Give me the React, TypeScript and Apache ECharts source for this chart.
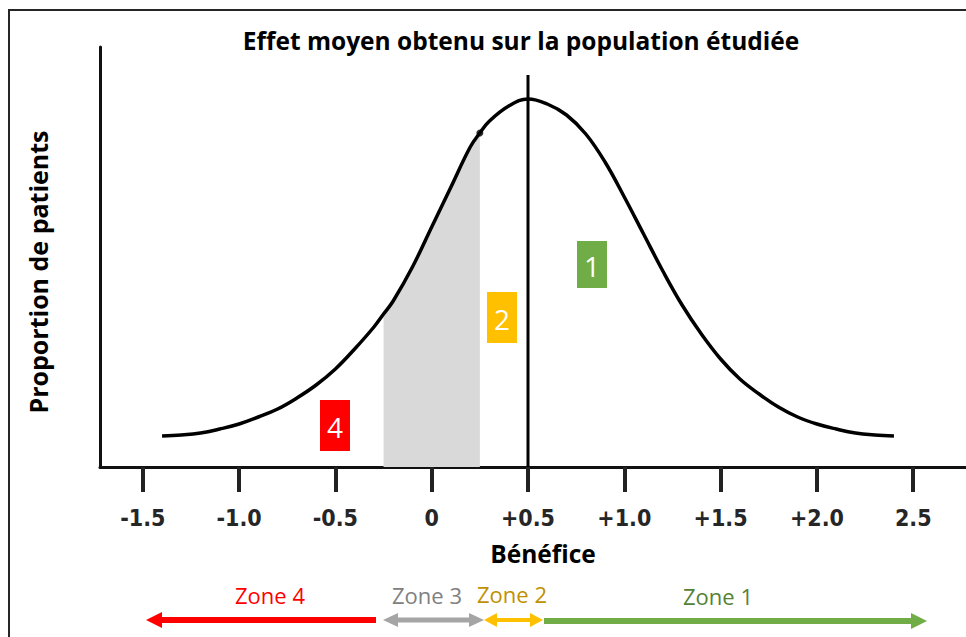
import React, { useEffect, useRef } from "react";
import * as echarts from "echarts";

// Curve (x = bénéfice, y = relative proportion of patients)
const curveX = [-1.4, -1.3, -1.2, -1.1, -1.0, -0.9, -0.8, -0.7, -0.6, -0.5, -0.4, -0.3, -0.25, -0.2, -0.1, 0.0, 0.1, 0.2, 0.25, 0.3, 0.4, 0.5, 0.6, 0.7, 0.8, 0.9, 1.0, 1.1, 1.2, 1.3, 1.4, 1.5, 1.6, 1.7, 1.8, 1.9, 2.0, 2.1, 2.2, 2.3, 2.4];
const curveY = [31, 32, 34, 38, 43, 50, 58, 69, 82, 98, 118, 140, 153, 166, 200, 240, 280, 320, 334, 346, 361, 368, 363, 352, 333, 305, 270, 233, 196, 162, 133, 108, 88, 73, 60, 50, 43, 38, 34, 32, 31];

// Shaded zone (zone 3) limits
const shadeFrom = -0.25;
const shadeTo = 0.25;

// Mean effect vertical line
const meanX = 0.5;
const meanLineTop = 392;

// X tick values and their labels
const tickValues = [-1.5, -1.0, -0.5, 0, 0.5, 1.0, 1.5, 2.0, 2.5];
const tickLabels = ["-1.5", "-1.0", "-0.5", "0", "+0.5", "+1.0", "+1.5", "+2.0", "2.5"];

// Zone labels / box numbers
const zoneNames = ["Zone 4", "Zone 3", "Zone 2", "Zone 1"];
const boxNumbers = ["4", "3", "2", "1"];

const titleText = "Effet moyen obtenu sur la population étudiée";
const xName = "Bénéfice";
const yName = "Proportion de patients";

const RED = "#ff0000";
const GRAY = "#a5a5a5";
const ORANGE = "#ffc000";
const GREEN = "#70ad47";

const BOLD_FONT = "'Open Sans', sans-serif";

function arrowLine(x1: number, x2: number, y: number, w: number, color: string) {
  return { type: "line", shape: { x1, y1: y, x2, y2: y }, style: { stroke: color, lineWidth: w }, silent: true };
}
function headLeft(tip: number, y: number, len: number, half: number, color: string) {
  return { type: "polygon", shape: { points: [[tip, y], [tip + len, y - half], [tip + len, y + half]] }, style: { fill: color }, silent: true };
}
function headRight(tip: number, y: number, len: number, half: number, color: string) {
  return { type: "polygon", shape: { points: [[tip, y], [tip - len, y - half], [tip - len, y + half]] }, style: { fill: color }, silent: true };
}
function box(x: number, y: number, w: number, h: number, fill: string, label: string, stroke?: string) {
  return {
    type: "group",
    children: [
      { type: "rect", shape: { x, y, width: w, height: h }, style: { fill, stroke: stroke || null, lineWidth: stroke ? 2 : 0 } },
      {
        type: "text",
        x: x + w / 2,
        y: y + h / 2 + 1,
        style: { text: label, fill: "#ffffff", font: "28px 'Open Sans', sans-serif", textAlign: "center", textVerticalAlign: "middle" },
      },
    ],
  };
}
function zoneText(x: number, y: number, text: string, color: string) {
  return { type: "text", x, y, style: { text, fill: color, font: "22px 'Open Sans', sans-serif", textAlign: "center", textVerticalAlign: "middle" } };
}

export default function App() {
  const ref = useRef<HTMLDivElement>(null);
  useEffect(() => {
    if (!ref.current) return;
    const chart = echarts.init(ref.current, null, { renderer: "svg" });
    const curve = curveX.map((x, i) => [x, curveY[i]]);
    const shade = curve.filter((p) => p[0] >= shadeFrom - 1e-9 && p[0] <= shadeTo + 1e-9);
    const fmt = (v: number) => {
      let best = 0;
      tickValues.forEach((t, i) => {
        if (Math.abs(t - v) < Math.abs(tickValues[best] - v)) best = i;
      });
      return tickLabels[best];
    };
    chart.setOption({
      animation: false,
      backgroundColor: "#ffffff",
      grid: { left: 100, right: 0, top: 47, bottom: 170 },
      xAxis: {
        type: "value",
        min: -1.7222,
        max: 2.7741,
        axisLine: { show: true, onZero: false, lineStyle: { color: "#111", width: 3 } },
        axisTick: { show: true, customValues: tickValues, length: 25, lineStyle: { color: "#222", width: 4 } },
        axisLabel: {
          show: true,
          customValues: tickValues,
          formatter: fmt,
          margin: 39,
          color: "#262626",
          fontWeight: "bold",
          fontSize: 23,
          fontFamily: "'Liberation Sans Narrow', 'DejaVu Sans Condensed', sans-serif",
        },
        splitLine: { show: false },
      },
      yAxis: {
        type: "value",
        min: 0,
        max: 420,
        axisLine: { show: true, onZero: false, lineStyle: { color: "#111", width: 3 } },
        axisTick: { show: false },
        axisLabel: { show: false },
        splitLine: { show: false },
      },
      series: [
        {
          type: "line",
          data: shade,
          smooth: 0.4,
          symbol: "none",
          lineStyle: { width: 0 },
          areaStyle: { color: "#d9d9d9", opacity: 1 },
          z: 1,
        },
        {
          type: "line",
          data: curve,
          smooth: 0.4,
          symbol: "none",
          lineStyle: { color: "#000", width: 3.5 },
          z: 3,
        },
        {
          type: "line",
          data: [[meanX, 0], [meanX, meanLineTop]],
          symbol: "none",
          lineStyle: { color: "#000", width: 3 },
          z: 4,
        },
        {
          type: "scatter",
          data: [[shadeTo, curveY[curveX.indexOf(shadeTo)]]],
          symbol: "circle",
          symbolSize: 7,
          itemStyle: { color: "#000" },
          z: 5,
        },
      ],
      graphic: [
        { type: "rect", shape: { x: 9, y: 10, width: 1000, height: 700 }, style: { fill: null, stroke: "#262626", lineWidth: 2 }, silent: true },
        {
          type: "text",
          x: 521,
          y: 40,
          style: { text: titleText, fill: "#000", font: "bold 24.5px " + BOLD_FONT, textAlign: "center", textVerticalAlign: "middle" },
        },
        {
          type: "text",
          x: 543,
          y: 553,
          style: { text: xName, fill: "#000", font: "bold 24.5px " + BOLD_FONT, textAlign: "center", textVerticalAlign: "middle" },
        },
        {
          type: "text",
          x: 38,
          y: 272,
          rotation: Math.PI / 2,
          style: { text: yName, fill: "#000", font: "bold 25px " + BOLD_FONT, textAlign: "center", textVerticalAlign: "middle" },
        },
        box(320, 400, 30, 51, RED, boxNumbers[0]),
        box(422, 344, 33, 55, GRAY, boxNumbers[1], "#ffffff"),
        box(487, 292, 30, 51, ORANGE, boxNumbers[2]),
        box(577, 241, 30, 47, GREEN, boxNumbers[3]),
        // arrows
        arrowLine(158, 376, 620, 6, RED),
        headLeft(146, 620, 16, 8, RED),
        arrowLine(395, 472, 620, 5, GRAY),
        headLeft(383, 620, 15, 7, GRAY),
        headRight(484, 620, 15, 7, GRAY),
        arrowLine(494, 533, 620, 4, ORANGE),
        headLeft(484, 620, 13, 7, ORANGE),
        headRight(543, 620, 13, 7, ORANGE),
        arrowLine(544, 914, 621, 6, GREEN),
        headRight(927, 621, 16, 8, GREEN),
        // zone names
        zoneText(270, 595, zoneNames[0], "#ff0000"),
        zoneText(427, 595, zoneNames[1], "#808080"),
        zoneText(512, 594, zoneNames[2], "#bf9000"),
        zoneText(718, 596, zoneNames[3], "#548235"),
      ],
    });
    return () => chart.dispose();
  }, []);
  return <div ref={ref} style={{ position: "fixed", left: 0, top: 0, width: 966, height: 637 }} />;
}
